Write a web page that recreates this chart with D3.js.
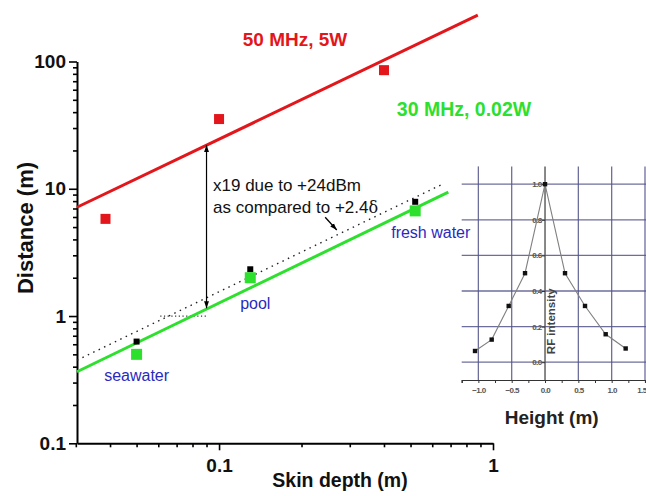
<!DOCTYPE html>
<html>
<head>
<meta charset="utf-8">
<script src="https://cdn.jsdelivr.net/npm/d3@7"></script>
<style>
  body { margin: 0; background: #fff; }
  svg { display: block; font-family: "Liberation Sans", Arial, sans-serif; }
</style>
</head>
<body>
<div class="chart"></div>
<script>
// main chart data (skin depth in m, distance in m)
const redPoints = [[0.0385, 5.8], [0.1, 35.3], [0.40, 85.5]];
const greenPoints = [[0.05, 0.5], [0.13, 2.0], [0.52, 6.7]];
const blackPoints = [[0.05, 0.63], [0.13, 2.33], [0.52, 7.9]];
const redFit = [[0.0303, 7.16], [0.88, 231]];
const greenFit = [[0.0303, 0.365], [0.687, 9.4]];
const dottedFit = [[0.0303, 0.45], [0.662, 11.0]];
const dottedFlat = [[0.061, 1.0], [0.09, 1.0]];
const waterLabels = [
  { name: "seawater", x: 0.05, y: 0.5 },
  { name: "pool", x: 0.13, y: 2.0 },
  { name: "fresh water", x: 0.52, y: 6.7 }
];
const xMajor = [0.1, 1];
const yMajor = [0.1, 1, 10, 100];

// inset data (height in m, RF intensity)
const insetPoints = [[-1.05, 0.063], [-0.8, 0.127], [-0.545, 0.316], [-0.3, 0.5], [0, 1.0],
  [0.3, 0.5], [0.6, 0.316], [0.91, 0.157], [1.21, 0.077]];
const insetXTicks = [-1.0, -0.5, 0.0, 0.5, 1.0, 1.5];
const insetYTicks = [0.0, 0.2, 0.4, 0.6, 0.8, 1.0];

const W = 646, H = 496;
const svg = d3.select(".chart").append("svg").attr("width", W).attr("height", H);

const RED = "#e3161b", GREEN = "#2ee02e", BLUE = "#2a2ac0";

// ---------- main scales ----------
const x = d3.scaleLog().domain([0.0303, 1]).range([77, 493]);
const y = d3.scaleLog().domain([0.1, 100]).range([443.3, 61.5]);

// minor tick values
const xTicks = [];
[0.01, 0.1].forEach(d => { for (let k = 1; k <= 9; k++) { const v = +(d * k).toFixed(3); if (v >= 0.03 && v <= 1) xTicks.push(v); } });
xTicks.push(1);
const yTicks = [];
[0.1, 1, 10].forEach(d => { for (let k = 1; k <= 9; k++) yTicks.push(+(d * k).toFixed(3)); });
yTicks.push(100);

// ---------- inset (drawn first, sits behind) ----------
const ix = d3.scaleLinear().domain([-1.25, 1.5]).range([461.7, 645]);
const iy = d3.scaleLinear().domain([-0.1, 1.1]).range([380, 166.4]);
const inset = svg.append("g");
const gridColor = "#55558a";

inset.selectAll(".hgrid").data(insetYTicks).enter().append("line")
  .attr("x1", ix(-1.25)).attr("x2", W)
  .attr("y1", d => iy(d)).attr("y2", d => iy(d))
  .attr("stroke", gridColor).attr("stroke-width", 1.3).attr("opacity", 0.85);
inset.selectAll(".vgrid").data(insetXTicks.filter(d => d !== 0)).enter().append("line")
  .attr("x1", d => ix(d)).attr("x2", d => ix(d))
  .attr("y1", iy(1.1)).attr("y2", iy(-0.1))
  .attr("stroke", gridColor).attr("stroke-width", 1.3).attr("opacity", 0.85);

const iAxisX = inset.append("g")
  .attr("transform", `translate(0,${iy(-0.1)})`)
  .call(d3.axisBottom(ix).tickValues(d3.range(-1.25, 1.51, 0.25)).tickSize(3)
    .tickFormat(d => insetXTicks.some(t => Math.abs(t - d) < 1e-6) ? d3.format(".1f")(d) : ""))
  .call(g => g.select(".domain").attr("stroke", "#333").attr("stroke-width", 1.2))
  .call(g => g.selectAll(".tick line").attr("stroke", "#333"))
  .call(g => g.selectAll("text").attr("fill", "#555").attr("font-size", 8).attr("font-weight", "bold")
    .attr("letter-spacing", -0.6).attr("dy", "0.9em").attr("font-family", "Liberation Sans, Arial"));
// last label sits at the picture's right edge
iAxisX.selectAll(".tick text").filter(d => d > 1.4).attr("text-anchor", "end").attr("x", 1);

inset.append("g")
  .attr("transform", `translate(${ix(0)},0)`)
  .call(d3.axisLeft(iy).tickValues(insetYTicks).tickSize(3).tickFormat(d3.format(".1f")))
  .call(g => g.select(".domain").attr("stroke", "#555").attr("stroke-width", 1.4).attr("d", `M0,${iy(1.1)}V${iy(-0.1)}`))
  .call(g => g.selectAll(".tick line").attr("stroke", "#333"))
  .call(g => g.selectAll("text").attr("fill", "#555").attr("font-size", 8).attr("font-weight", "bold")
    .attr("letter-spacing", -0.6).attr("x", -3.5).attr("font-family", "Liberation Sans, Arial"));

inset.append("text")
  .attr("transform", `translate(${ix(0) + 10},${iy(0.23)}) rotate(-90)`)
  .attr("text-anchor", "middle")
  .attr("font-size", 11.5).attr("font-weight", "bold").attr("fill", "#444")
  .text("RF intensity");

inset.append("path")
  .datum(insetPoints)
  .attr("fill", "none").attr("stroke", "#808080").attr("stroke-width", 1.1)
  .attr("d", d3.line().x(d => ix(d[0])).y(d => iy(d[1])));
inset.selectAll(".ipt").data(insetPoints).enter().append("rect")
  .attr("x", d => ix(d[0]) - 2.2).attr("y", d => iy(d[1]) - 2.2)
  .attr("width", 4.4).attr("height", 4.4).attr("fill", "#111");

inset.append("text")
  .attr("x", ix(0.1)).attr("y", 424)
  .attr("text-anchor", "middle")
  .attr("font-size", 19).attr("font-weight", "bold").attr("fill", "#222")
  .text("Height (m)");

// ---------- main axes ----------
const axisX = svg.append("g")
  .attr("transform", `translate(0,${y(0.1)})`)
  .call(d3.axisBottom(x).tickValues(xTicks).tickSizeOuter(0)
    .tickFormat(d => xMajor.includes(d) ? String(d) : ""));
axisX.selectAll(".tick line").attr("y2", d => xMajor.includes(d) ? 7 : 4);

const axisY = svg.append("g")
  .attr("transform", `translate(${x(0.0303)},0)`)
  .call(d3.axisLeft(y).tickValues(yTicks).tickSizeOuter(0)
    .tickFormat(d => yMajor.includes(d) ? String(d) : ""));
axisY.selectAll(".tick line").attr("x2", d => yMajor.includes(d) ? -8 : -4);

[axisX, axisY].forEach(a => {
  a.select(".domain").attr("stroke", "#000").attr("stroke-width", 2);
  a.selectAll(".tick line").attr("stroke", "#000").attr("stroke-width", 1.6);
  a.selectAll("text").attr("font-size", 19).attr("font-weight", "bold").attr("fill", "#111")
    .attr("font-family", "Liberation Sans, Arial");
});
axisX.selectAll("text").attr("dy", "1.05em");
axisY.selectAll("text").attr("x", -11);

svg.append("text")
  .attr("x", 340).attr("y", 487)
  .attr("text-anchor", "middle")
  .attr("font-size", 19.5).attr("font-weight", "bold").attr("fill", "#111")
  .text("Skin depth (m)");

svg.append("text")
  .attr("transform", "translate(33,228) rotate(-90)")
  .attr("text-anchor", "middle")
  .attr("font-size", 22).attr("font-weight", "bold").attr("fill", "#111")
  .text("Distance (m)");

// ---------- lines ----------
const line = d3.line().x(d => x(d[0])).y(d => y(d[1]));

svg.append("path").datum(dottedFit)
  .attr("fill", "none").attr("stroke", "#222").attr("stroke-width", 1.4)
  .attr("stroke-dasharray", "1.5,4.5").attr("d", line);
svg.append("path").datum(dottedFlat)
  .attr("fill", "none").attr("stroke", "#333").attr("stroke-width", 1.2)
  .attr("stroke-dasharray", "1.2,2.5").attr("d", line);

svg.append("path").datum(redFit)
  .attr("fill", "none").attr("stroke", RED).attr("stroke-width", 3).attr("d", line);
svg.append("path").datum(greenFit)
  .attr("fill", "none").attr("stroke", GREEN).attr("stroke-width", 3).attr("d", line);

// ---------- points ----------
svg.selectAll(".bpt").data(blackPoints).enter().append("rect")
  .attr("x", d => x(d[0]) - 3).attr("y", d => y(d[1]) - 3)
  .attr("width", 6).attr("height", 6).attr("fill", "#000");
svg.selectAll(".rpt").data(redPoints).enter().append("rect")
  .attr("x", d => x(d[0]) - 5).attr("y", d => y(d[1]) - 5)
  .attr("width", 10).attr("height", 10).attr("fill", RED);
svg.selectAll(".gpt").data(greenPoints).enter().append("rect")
  .attr("x", d => x(d[0]) - 5.5).attr("y", d => y(d[1]) - 5.5)
  .attr("width", 11).attr("height", 11).attr("fill", GREEN);

// ---------- labels ----------
svg.selectAll(".wlabel").data(waterLabels).enter().append("text")
  .attr("x", d => x(d.x)).attr("y", d => y(d.y) + 27)
  .attr("text-anchor", d => d.name === "fresh water" ? "start" : "middle")
  .attr("dx", d => d.name === "fresh water" ? -24 : (d.name === "pool" ? 5 : 0))
  .attr("dy", d => d.name === "pool" ? 4 : 0)
  .attr("font-size", 16).attr("fill", BLUE)
  .text(d => d.name);

svg.append("text").attr("x", 295).attr("y", 46)
  .attr("text-anchor", "middle").attr("font-size", 19).attr("font-weight", "bold").attr("fill", RED)
  .text("50 MHz, 5W");
svg.append("text").attr("x", 464).attr("y", 116)
  .attr("text-anchor", "middle").attr("font-size", 19.5).attr("font-weight", "bold").attr("fill", GREEN)
  .text("30 MHz, 0.02W");

// ---------- annotation arrows ----------
const defs = svg.append("defs");
defs.append("marker").attr("id", "head").attr("viewBox", "0 0 10 10")
  .attr("refX", 10).attr("refY", 5).attr("markerWidth", 7).attr("markerHeight", 7)
  .attr("markerUnits", "userSpaceOnUse").attr("orient", "auto-start-reverse")
  .append("path").attr("d", "M0,1.5L10,5L0,8.5Z").attr("fill", "#000");

const arrowX = 0.09, arrowTop = 22.1, arrowBottom = 1.15;
svg.append("line")
  .attr("x1", x(arrowX)).attr("x2", x(arrowX))
  .attr("y1", y(arrowTop)).attr("y2", y(arrowBottom))
  .attr("stroke", "#000").attr("stroke-width", 1.2)
  .attr("marker-start", "url(#head)").attr("marker-end", "url(#head)");

const pointer = [[0.244, 5.97], [0.269, 4.74]];
svg.append("line")
  .attr("x1", x(pointer[0][0])).attr("y1", y(pointer[0][1]))
  .attr("x2", x(pointer[1][0])).attr("y2", y(pointer[1][1]))
  .attr("stroke", "#000").attr("stroke-width", 1.3)
  .attr("marker-end", "url(#head)");

const note = svg.append("text").attr("font-size", 17).attr("fill", "#111");
note.append("tspan").attr("x", 213).attr("y", 191).text("x19 due to +24dBm");
const l2 = note.append("tspan").attr("x", 213).attr("y", 213).text("as compared to +2.4");
l2.append("tspan").attr("font-family", "DejaVu Serif, Liberation Serif, serif").attr("font-size", 16).text("δ");
</script>
</body>
</html>
